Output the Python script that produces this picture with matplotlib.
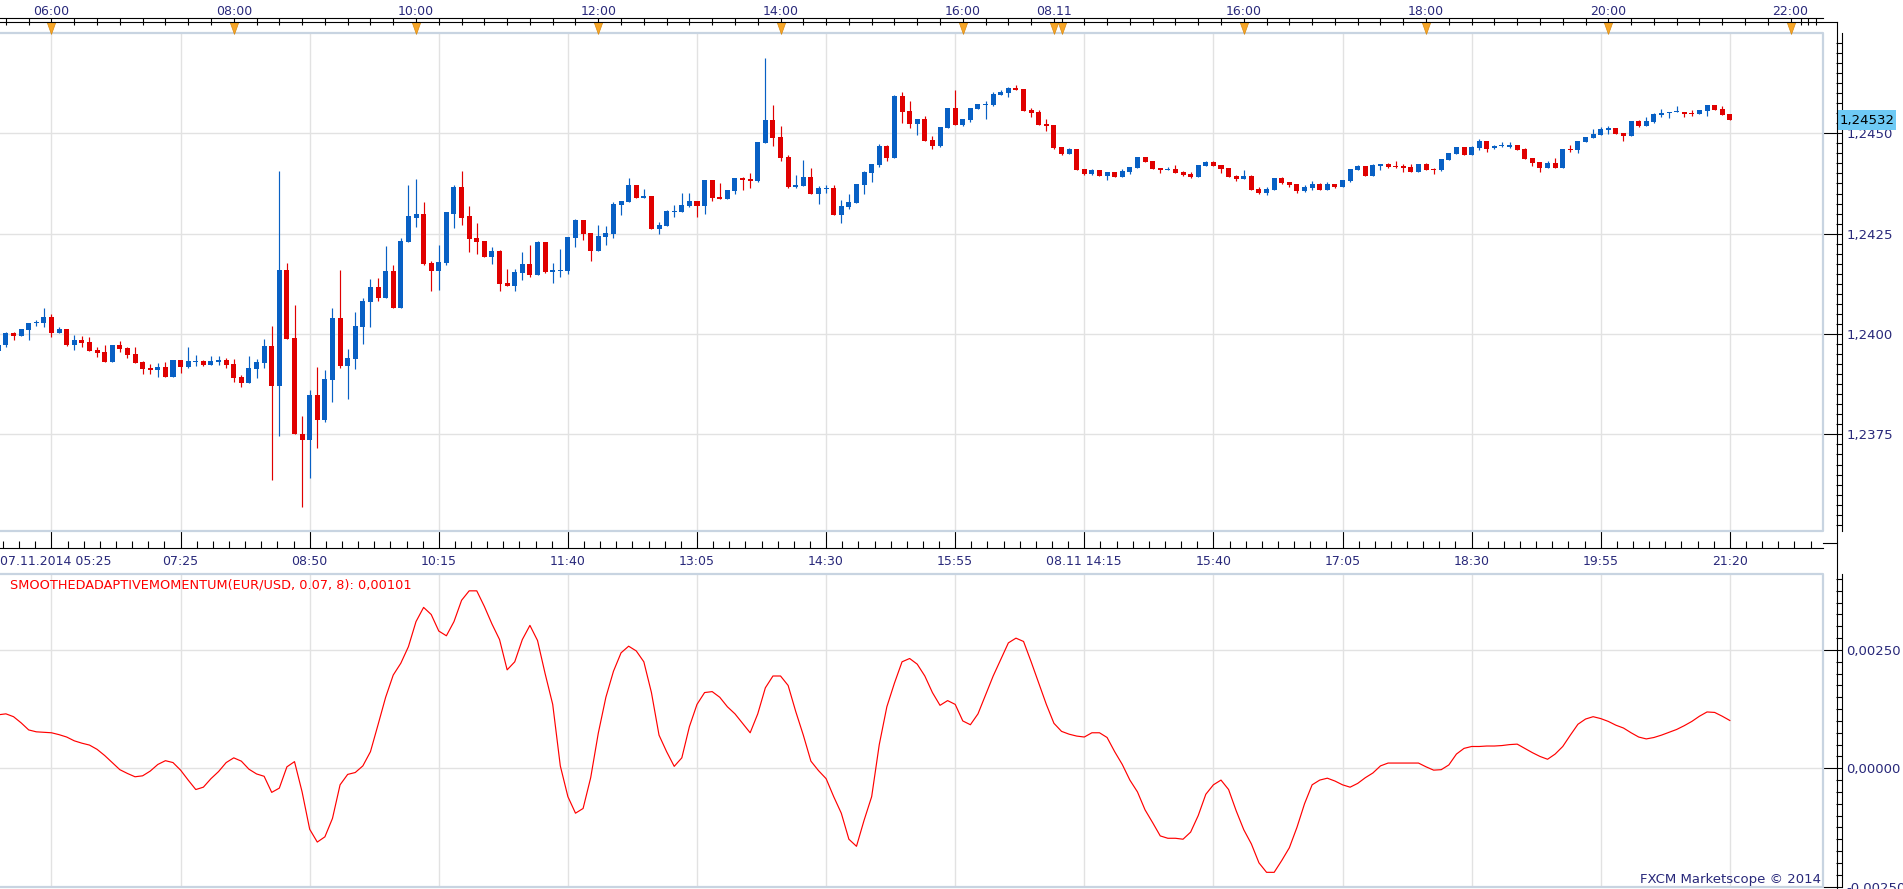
import numpy as np
import matplotlib
matplotlib.use("Agg")
import matplotlib.pyplot as plt
import matplotlib.transforms as mtransforms
from matplotlib.lines import Line2D
from matplotlib.patches import Rectangle
from matplotlib.path import Path
from matplotlib.ticker import FixedLocator, MultipleLocator

plt.rcParams['font.family'] = ['DejaVu Sans']

# ---------------- data ----------------
first_index = -7  # candle index of the first (partly hidden) bar; index 0 = 06:00

opens = [1.23958, 1.23972, 1.24003, 1.23994, 1.24011, 1.24027, 1.24028,
         1.24043, 1.24003, 1.24013, 1.23973, 1.23986, 1.23981, 1.23961, 1.23956, 1.23931, 1.23973,
         1.23966, 1.23951, 1.23931, 1.23916, 1.23911, 1.23918, 1.23893, 1.23936, 1.23918, 1.23931,
         1.23933, 1.23923, 1.23931, 1.23936, 1.23926, 1.23893, 1.23878, 1.23914, 1.23928, 1.23971,
         1.23871, 1.24159, 1.23990, 1.23752, 1.23736, 1.23849, 1.23786, 1.23886, 1.24040, 1.23921,
         1.23938, 1.24018, 1.24080, 1.24117, 1.24090, 1.24157, 1.24065, 1.24229, 1.24290, 1.24298,
         1.24176, 1.24157, 1.24176, 1.24300, 1.24367, 1.24293, 1.24238, 1.24231, 1.24191, 1.24206,
         1.24127, 1.24119, 1.24152, 1.24174, 1.24147, 1.24229, 1.24154, 1.24157, 1.24157, 1.24238,
         1.24283, 1.24251, 1.24206, 1.24241, 1.24248, 1.24321, 1.24328, 1.24371, 1.24338, 1.24343,
         1.24261, 1.24268, 1.24304, 1.24304, 1.24318, 1.24331, 1.24318, 1.24383, 1.24341, 1.24336,
         1.24356, 1.24388, 1.24386, 1.24381, 1.24476, 1.24533, 1.24491, 1.24441, 1.24366, 1.24368,
         1.24391, 1.24348, 1.24361, 1.24363, 1.24296, 1.24316, 1.24326, 1.24371, 1.24401, 1.24421,
         1.24468, 1.24438, 1.24593, 1.24556, 1.24523, 1.24536, 1.24483, 1.24468, 1.24513, 1.24563,
         1.24521, 1.24533, 1.24561, 1.24571, 1.24571, 1.24596, 1.24601, 1.24613, 1.24611, 1.24558,
         1.24553, 1.24523, 1.24521, 1.24466, 1.24448, 1.24461, 1.24411, 1.24398, 1.24408, 1.24393,
         1.24403, 1.24391, 1.24403, 1.24413, 1.24441, 1.24431, 1.24413, 1.24408, 1.24411, 1.24403,
         1.24398, 1.24391, 1.24418, 1.24428, 1.24421, 1.24413, 1.24393, 1.24386, 1.24393, 1.24361,
         1.24351, 1.24358, 1.24388, 1.24378, 1.24373, 1.24356, 1.24363, 1.24373, 1.24358, 1.24373,
         1.24366, 1.24381, 1.24408, 1.24418, 1.24393, 1.24418, 1.24423, 1.24418, 1.24418, 1.24416,
         1.24403, 1.24423, 1.24411, 1.24408, 1.24433, 1.24448, 1.24466, 1.24446, 1.24463, 1.24481,
         1.24463, 1.24468, 1.24466, 1.24471, 1.24461, 1.24438, 1.24428, 1.24413, 1.24426, 1.24413,
         1.24461, 1.24458, 1.24478, 1.24488, 1.24496, 1.24508, 1.24513, 1.24501, 1.24493, 1.24531,
         1.24518, 1.24528, 1.24546, 1.24551, 1.24552, 1.24553, 1.24551, 1.24548, 1.24556, 1.24571,
         1.24561, 1.24548]

highs = [1.23980, 1.24005, 1.24006, 1.24013, 1.24028, 1.24036, 1.24066,
         1.24051, 1.24018, 1.24013, 1.23998, 1.23996, 1.23993, 1.23968, 1.23973, 1.23973, 1.23983,
         1.23968, 1.23968, 1.23933, 1.23926, 1.23928, 1.23931, 1.23936, 1.23936, 1.23968, 1.23948,
         1.23936, 1.23946, 1.23946, 1.23941, 1.23938, 1.23898, 1.23946, 1.23938, 1.23988, 1.24019,
         1.24405, 1.24176, 1.24072, 1.23795, 1.23860, 1.23919, 1.23911, 1.24065, 1.24159, 1.23963,
         1.24055, 1.24090, 1.24137, 1.24139, 1.24219, 1.24171, 1.24238, 1.24370, 1.24385, 1.24328,
         1.24181, 1.24221, 1.24303, 1.24370, 1.24405, 1.24318, 1.24276, 1.24231, 1.24216, 1.24209,
         1.24162, 1.24162, 1.24204, 1.24221, 1.24231, 1.24229, 1.24176, 1.24211, 1.24241, 1.24286,
         1.24283, 1.24251, 1.24271, 1.24268, 1.24328, 1.24331, 1.24388, 1.24371, 1.24361, 1.24343,
         1.24278, 1.24308, 1.24321, 1.24351, 1.24351, 1.24331, 1.24383, 1.24383, 1.24376, 1.24358,
         1.24388, 1.24391, 1.24401, 1.24478, 1.24688, 1.24571, 1.24518, 1.24446, 1.24396, 1.24433,
         1.24413, 1.24368, 1.24371, 1.24371, 1.24333, 1.24348, 1.24373, 1.24406, 1.24423, 1.24473,
         1.24471, 1.24596, 1.24603, 1.24581, 1.24536, 1.24543, 1.24493, 1.24516, 1.24563, 1.24608,
         1.24536, 1.24563, 1.24573, 1.24581, 1.24603, 1.24608, 1.24616, 1.24621, 1.24611, 1.24563,
         1.24558, 1.24536, 1.24521, 1.24466, 1.24463, 1.24461, 1.24411, 1.24411, 1.24408, 1.24403,
         1.24403, 1.24411, 1.24416, 1.24441, 1.24441, 1.24431, 1.24413, 1.24416, 1.24421, 1.24406,
         1.24403, 1.24421, 1.24431, 1.24431, 1.24421, 1.24413, 1.24396, 1.24408, 1.24396, 1.24366,
         1.24366, 1.24388, 1.24391, 1.24378, 1.24373, 1.24371, 1.24381, 1.24376, 1.24378, 1.24373,
         1.24383, 1.24411, 1.24421, 1.24418, 1.24423, 1.24423, 1.24426, 1.24431, 1.24423, 1.24423,
         1.24423, 1.24426, 1.24413, 1.24436, 1.24451, 1.24466, 1.24466, 1.24468, 1.24486, 1.24481,
         1.24471, 1.24478, 1.24478, 1.24471, 1.24463, 1.24438, 1.24428, 1.24431, 1.24438, 1.24461,
         1.24471, 1.24481, 1.24491, 1.24511, 1.24516, 1.24518, 1.24513, 1.24501, 1.24531, 1.24533,
         1.24541, 1.24551, 1.24561, 1.24553, 1.24568, 1.24553, 1.24558, 1.24558, 1.24571, 1.24571,
         1.24568, 1.24548]

lows = [1.23950, 1.23967, 1.23984, 1.23994, 1.23984, 1.24019, 1.24017,
        1.23992, 1.24002, 1.23971, 1.23961, 1.23967, 1.23958, 1.23943, 1.23931, 1.23931, 1.23956,
        1.23941, 1.23928, 1.23901, 1.23901, 1.23893, 1.23893, 1.23893, 1.23903, 1.23916, 1.23921,
        1.23921, 1.23923, 1.23923, 1.23916, 1.23881, 1.23868, 1.23878, 1.23891, 1.23916, 1.23637,
        1.23746, 1.23988, 1.23750, 1.23570, 1.23641, 1.23715, 1.23781, 1.23830, 1.23916, 1.23839,
        1.23914, 1.23976, 1.24018, 1.24082, 1.24090, 1.24065, 1.24065, 1.24229, 1.24266, 1.24171,
        1.24107, 1.24110, 1.24171, 1.24263, 1.24271, 1.24204, 1.24199, 1.24191, 1.24174, 1.24107,
        1.24119, 1.24107, 1.24134, 1.24142, 1.24147, 1.24152, 1.24127, 1.24142, 1.24149, 1.24216,
        1.24233, 1.24181, 1.24206, 1.24221, 1.24238, 1.24296, 1.24328, 1.24338, 1.24338, 1.24261,
        1.24248, 1.24268, 1.24291, 1.24304, 1.24316, 1.24291, 1.24298, 1.24331, 1.24336, 1.24336,
        1.24348, 1.24358, 1.24363, 1.24378, 1.24476, 1.24468, 1.24431, 1.24363, 1.24363, 1.24368,
        1.24348, 1.24323, 1.24351, 1.24296, 1.24276, 1.24311, 1.24326, 1.24348, 1.24378, 1.24416,
        1.24431, 1.24438, 1.24526, 1.24513, 1.24496, 1.24481, 1.24461, 1.24466, 1.24513, 1.24521,
        1.24518, 1.24528, 1.24561, 1.24536, 1.24568, 1.24596, 1.24591, 1.24608, 1.24556, 1.24541,
        1.24521, 1.24506, 1.24461, 1.24446, 1.24448, 1.24408, 1.24396, 1.24396, 1.24393, 1.24383,
        1.24391, 1.24391, 1.24398, 1.24413, 1.24428, 1.24411, 1.24401, 1.24408, 1.24401, 1.24393,
        1.24388, 1.24391, 1.24418, 1.24418, 1.24401, 1.24391, 1.24381, 1.24386, 1.24358, 1.24348,
        1.24346, 1.24358, 1.24373, 1.24366, 1.24351, 1.24353, 1.24358, 1.24358, 1.24358, 1.24363,
        1.24366, 1.24378, 1.24408, 1.24393, 1.24393, 1.24408, 1.24413, 1.24413, 1.24403, 1.24403,
        1.24403, 1.24408, 1.24398, 1.24406, 1.24433, 1.24448, 1.24446, 1.24446, 1.24458, 1.24453,
        1.24461, 1.24466, 1.24463, 1.24458, 1.24436, 1.24418, 1.24403, 1.24413, 1.24413, 1.24413,
        1.24453, 1.24451, 1.24478, 1.24488, 1.24496, 1.24498, 1.24498, 1.24481, 1.24493, 1.24516,
        1.24518, 1.24526, 1.24541, 1.24538, 1.24552, 1.24541, 1.24543, 1.24548, 1.24543, 1.24558,
        1.24546, 1.24532]

closes = [1.23973, 1.24002, 1.23994, 1.24013, 1.24028, 1.24031, 1.24043,
          1.24003, 1.24013, 1.23973, 1.23986, 1.23978, 1.23958, 1.23953, 1.23931, 1.23973, 1.23963,
          1.23948, 1.23928, 1.23913, 1.23911, 1.23918, 1.23893, 1.23936, 1.23918, 1.23933, 1.23933,
          1.23923, 1.23933, 1.23936, 1.23923, 1.23891, 1.23878, 1.23916, 1.23931, 1.23971, 1.23871,
          1.24159, 1.23988, 1.23750, 1.23736, 1.23849, 1.23786, 1.23889, 1.24040, 1.23921, 1.23941,
          1.24020, 1.24082, 1.24117, 1.24090, 1.24157, 1.24065, 1.24231, 1.24293, 1.24298, 1.24174,
          1.24157, 1.24179, 1.24303, 1.24367, 1.24290, 1.24236, 1.24229, 1.24191, 1.24206, 1.24124,
          1.24119, 1.24154, 1.24174, 1.24147, 1.24229, 1.24154, 1.24159, 1.24159, 1.24241, 1.24283,
          1.24248, 1.24206, 1.24243, 1.24251, 1.24323, 1.24331, 1.24371, 1.24338, 1.24343, 1.24261,
          1.24271, 1.24306, 1.24306, 1.24321, 1.24331, 1.24318, 1.24383, 1.24338, 1.24336, 1.24358,
          1.24388, 1.24383, 1.24381, 1.24478, 1.24533, 1.24488, 1.24438, 1.24366, 1.24371, 1.24391,
          1.24348, 1.24363, 1.24363, 1.24296, 1.24318, 1.24328, 1.24373, 1.24403, 1.24423, 1.24468,
          1.24438, 1.24593, 1.24553, 1.24523, 1.24536, 1.24481, 1.24468, 1.24516, 1.24563, 1.24521,
          1.24536, 1.24563, 1.24573, 1.24573, 1.24598, 1.24603, 1.24613, 1.24608, 1.24556, 1.24551,
          1.24521, 1.24518, 1.24463, 1.24448, 1.24461, 1.24408, 1.24398, 1.24408, 1.24393, 1.24403,
          1.24391, 1.24406, 1.24416, 1.24441, 1.24428, 1.24411, 1.24408, 1.24411, 1.24401, 1.24396,
          1.24391, 1.24421, 1.24428, 1.24418, 1.24411, 1.24391, 1.24386, 1.24393, 1.24358, 1.24351,
          1.24361, 1.24388, 1.24376, 1.24371, 1.24356, 1.24366, 1.24373, 1.24358, 1.24373, 1.24366,
          1.24383, 1.24411, 1.24418, 1.24393, 1.24421, 1.24423, 1.24416, 1.24416, 1.24413, 1.24403,
          1.24423, 1.24408, 1.24409, 1.24436, 1.24451, 1.24466, 1.24446, 1.24466, 1.24481, 1.24462,
          1.24468, 1.24469, 1.24471, 1.24458, 1.24436, 1.24426, 1.24413, 1.24426, 1.24413, 1.24461,
          1.24458, 1.24481, 1.24491, 1.24498, 1.24511, 1.24513, 1.24498, 1.24493, 1.24531, 1.24518,
          1.24531, 1.24548, 1.24551, 1.24553, 1.24553, 1.24548, 1.24549, 1.24558, 1.24571, 1.24558,
          1.24546, 1.24532]

# smoothed adaptive momentum, in units of 1e-5
momentum_e5 = [113, 115, 109, 96, 81, 77, 76,
               75, 71, 66, 58, 53, 49, 40, 27, 12, -3,
               -11, -18, -16, -6, 8, 16, 12, -4, -25, -45,
               -40, -22, -7, 12, 22, 15, -2, -12, -17, -51,
               -42, 3, 14, -50, -129, -156, -145, -106, -35, -13,
               -9, 5, 35, 92, 150, 197, 222, 257, 310, 340,
               325, 290, 280, 310, 355, 375, 375, 342, 305, 272,
               208, 225, 272, 302, 270, 200, 135, 5, -60, -95,
               -85, -20, 74, 150, 205, 244, 258, 248, 225, 160,
               70, 35, 4, 22, 88, 135, 160, 162, 150, 130,
               115, 95, 75, 115, 170, 195, 195, 175, 120, 70,
               15, -5, -22, -60, -95, -150, -165, -110, -60, 50,
               130, 180, 225, 232, 220, 195, 160, 133, 143, 135,
               100, 92, 115, 155, 195, 230, 265, 275, 268, 225,
               180, 135, 95, 78, 72, 68, 66, 75, 75, 65,
               35, 8, -25, -50, -88, -115, -143, -148, -148, -150,
               -135, -100, -55, -35, -25, -45, -90, -130, -160, -200,
               -220, -220, -195, -168, -125, -75, -35, -25, -21, -27,
               -35, -40, -32, -20, -10, 5, 11, 11, 11, 11,
               11, 3, -4, -3, 7, 30, 42, 46, 46, 47,
               47, 48, 50, 51, 42, 33, 25, 19, 30, 46,
               70, 93, 104, 109, 105, 99, 91, 85, 75, 66,
               62, 65, 70, 76, 82, 90, 99, 110, 119, 118,
               110, 101]

bottom_tick_idx = [0, 17, 34, 51, 68, 85, 102, 119, 136, 153, 170, 187, 204, 221]
bottom_tick_labels = ['07.11.2014 05:25', '07:25', '08:50', '10:15', '11:40', '13:05',
                      '14:30', '15:55', '08.11 14:15', '15:40', '17:05', '18:30',
                      '19:55', '21:20']
top_tick_idx = [0, 24, 48, 72, 96, 120, 132, 157, 181, 205, 229]
top_tick_labels = ['06:00', '08:00', '10:00', '12:00', '14:00', '16:00', '08.11',
                   '16:00', '18:00', '20:00', '22:00']
top_marker_idx = [0, 24, 48, 72, 96, 120, 132, 133, 157, 181, 205, 229]
top_minor_idx = list(range(-6, 133, 3)) + list(range(133, 230, 3)) + [230.4, 231.3, 232.4]

price_ticks = [1.2375, 1.2400, 1.2425, 1.2450]
price_tick_labels = ['1,2375', '1,2400', '1,2425', '1,2450']
mom_ticks = [-0.0025, 0.0, 0.0025]
mom_tick_labels = ['-0,00250', '0,00000', '0,00250']
last_price = 1.24532
last_price_label = '1,24532'
indicator_title = 'SMOOTHEDADAPTIVEMOMENTUM(EUR/USD, 0.07, 8): 0,00101'
credit_text = 'FXCM Marketscope \u00a9 2014'

# ---------------- style ----------------
W, H = 1903, 889
NAVY = '#28287a'
UP = '#0860c4'
DOWN = '#e00000'
GRID = '#e2e2e2'
FRAME = '#c8d4e1'


def fx(px):
    return px / W


def fy(py):
    return 1 - py / H


fig = plt.figure(figsize=(W / 100, H / 100), dpi=100)
fig.patch.set_facecolor('white')

PLOT_R = 1823
ax_p = fig.add_axes([0, fy(531), fx(PLOT_R), (531 - 33) / H])
ax_m = fig.add_axes([0, fy(887), fx(PLOT_R), (887 - 574) / H])

xlim = (-6.78, 233.27)

o = np.array(opens)
h = np.array(highs)
l = np.array(lows)
c = np.array(closes)
x = np.arange(first_index, first_index + len(o))
cols = np.where(c >= o, UP, DOWN)

# ---------------- price panel ----------------
ax_p.set_xlim(*xlim)
ax_p.set_ylim(1.235094, 1.247498)
ax_p.vlines(x, l, h, colors=cols, lw=0.85, zorder=3)
body_bottom = np.minimum(o, c)
body_h = np.maximum(np.abs(c - o), 0.000025)
ax_p.bar(x, body_h, bottom=body_bottom, width=0.66, color=cols, lw=0, zorder=4)

ax_p.set_xticks(bottom_tick_idx, [''] + bottom_tick_labels[1:])
ax_p.xaxis.set_minor_locator(MultipleLocator(17 / 8))
ax_p.yaxis.tick_right()
ax_p.set_yticks(price_ticks, price_tick_labels)
ax_p.yaxis.set_minor_locator(MultipleLocator(0.00025))
ax_p.grid(True, which='major', color=GRID, lw=1.0, zorder=0)

for s in ('left', 'top'):
    ax_p.spines[s].set_visible(False)
ax_p.spines['right'].set_position(('outward', 14))
ax_p.spines['bottom'].set_position(('outward', 12))
for s in ('right', 'bottom'):
    ax_p.spines[s].set_color('black')
    ax_p.spines[s].set_linewidth(0.8)

ax_p.tick_params(axis='x', which='major', direction='in', length=12, width=0.8,
                 color='black', labelsize=9, labelcolor=NAVY, pad=5.3)
ax_p.tick_params(axis='x', which='minor', direction='in', length=5, width=0.8, color='black')
ax_p.tick_params(axis='y', which='major', direction='in', length=14, width=0.8,
                 color='black', labelsize=9.5, labelcolor=NAVY, pad=3)
ax_p.tick_params(axis='y', which='minor', direction='in', length=4, width=0.8, color='black')

ax_p.text(0.0, (531 - 555.0) / 498, bottom_tick_labels[0], transform=ax_p.transAxes,
          ha='left', va='top', fontsize=9, color=NAVY)

# frame (light bars)
ax_p.plot([0, 1, 1, 0], [1, 1, 0, 0], transform=ax_p.transAxes, color=FRAME, lw=1.6,
          clip_on=False, zorder=6)

# top time axis
sec = ax_p.secondary_xaxis('top')
sec.spines['top'].set_position(('outward', 11))
sec.spines['top'].set_color('black')
sec.spines['top'].set_linewidth(0.8)
sec.set_xticks(top_tick_idx, labels=top_tick_labels)
sec.xaxis.set_minor_locator(FixedLocator(top_minor_idx))
sec.tick_params(which='both', direction='in', length=5, width=0.8, color='black')
sec.tick_params(which='major', labelsize=9, labelcolor=NAVY, pad=0)

tri = Path([(-0.72, 1.0), (0.72, 1.0), (0.0, -1.0), (-0.72, 1.0)],
           [Path.MOVETO, Path.LINETO, Path.LINETO, Path.CLOSEPOLY])
blend_top = mtransforms.blended_transform_factory(ax_p.transData, ax_p.transAxes)
ax_p.plot(top_marker_idx, [(531 - 27.5) / 498] * len(top_marker_idx),
          ls='none', marker=tri, ms=8.5, mfc='#f7a627', mec='#d98a10', mew=0.5,
          transform=blend_top, clip_on=False, zorder=7)

# last price marker on the right axis
blend_r = mtransforms.blended_transform_factory(ax_p.transAxes, ax_p.transData)
box_h = 20 / 498 * (1.247498 - 1.235094)
ax_p.add_patch(Rectangle((1 + 15 / PLOT_R, last_price - box_h / 2), 58 / PLOT_R, box_h,
                         transform=blend_r, facecolor='#6ecaf5', edgecolor='none',
                         clip_on=False, zorder=8))
ax_p.text(1 + 17 / PLOT_R, last_price, last_price_label, transform=blend_r, ha='left',
          va='center', fontsize=9.5, color='black', zorder=9, clip_on=False)

# ---------------- indicator panel ----------------
ax_m.set_xlim(*xlim)
ax_m.set_ylim(-0.00251, 0.004106)
ax_m.plot(x, np.array(momentum_e5) * 1e-5, color='#ff0000', lw=0.85, zorder=3)
ax_m.set_xticks(bottom_tick_idx)
ax_m.tick_params(axis='x', which='both', length=0, labelbottom=False)
ax_m.yaxis.tick_right()
ax_m.set_yticks(mom_ticks, mom_tick_labels)
ax_m.yaxis.set_minor_locator(MultipleLocator(0.00025))
ax_m.grid(True, which='major', color=GRID, lw=1.0, zorder=0)
for s in ('left', 'top', 'bottom'):
    ax_m.spines[s].set_visible(False)
ax_m.spines['right'].set_position(('outward', 14))
ax_m.spines['right'].set_color('black')
ax_m.spines['right'].set_linewidth(0.8)
ax_m.tick_params(axis='y', which='major', direction='in', length=14, width=0.8,
                 color='black', labelsize=9.5, labelcolor=NAVY, pad=3)
ax_m.tick_params(axis='y', which='minor', direction='in', length=4, width=0.8, color='black')
ax_m.plot([0, 1, 1, 0], [1, 1, 0, 0], transform=ax_m.transAxes, color=FRAME, lw=1.6,
          clip_on=False, zorder=6)
ax_m.text(10 / PLOT_R, (887 - 585) / (887 - 574), indicator_title, transform=ax_m.transAxes,
          ha='left', va='center', fontsize=9.3, color='#ff0000')

# ---------------- figure-level axis lines ----------------
fig.add_artist(Line2D([fx(0), fx(1837)], [fy(22), fy(22)], color='black', lw=0.8))
fig.add_artist(Line2D([fx(PLOT_R), fx(1837)], [fy(543), fy(543)], color='black', lw=0.8))
fig.add_artist(Line2D([fx(1837), fx(1837)], [fy(22), fy(889)], color='black', lw=0.8))

fig.text(fx(1821), fy(879), credit_text, ha='right', va='center', fontsize=9.5, color=NAVY)

fig.savefig('out.png', dpi=100, facecolor='white')
